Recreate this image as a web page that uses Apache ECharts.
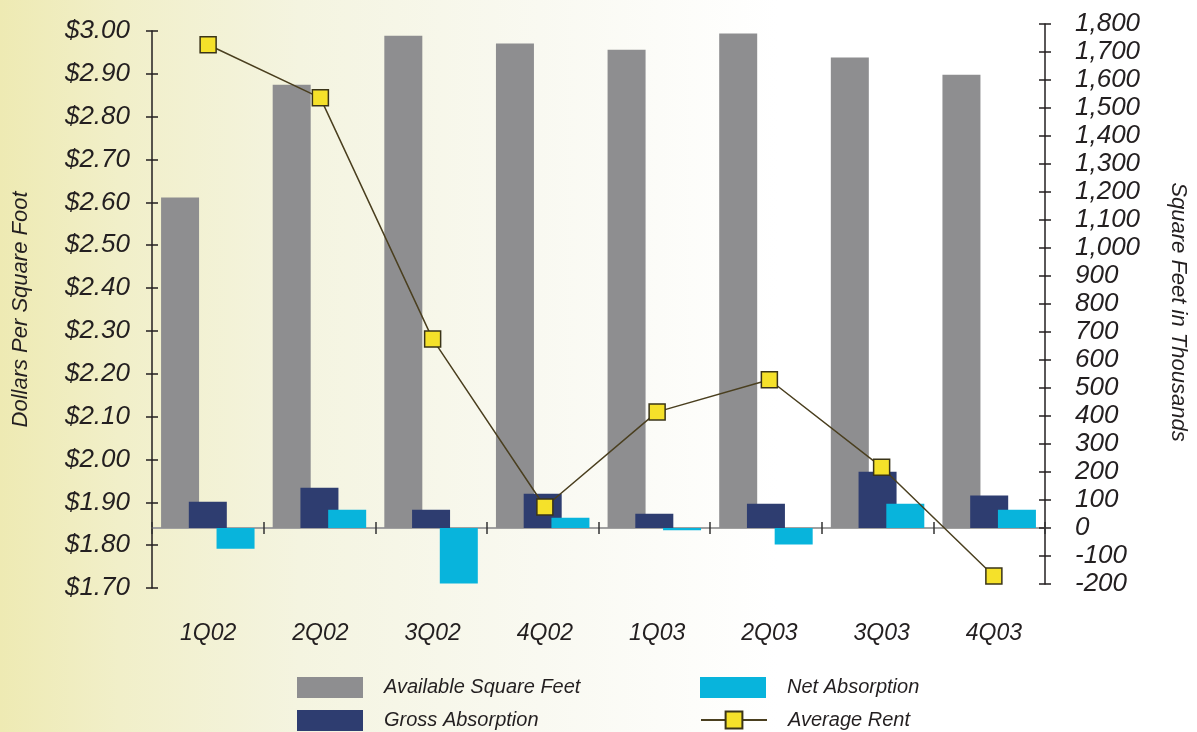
<!DOCTYPE html>
<html>
<head>
<meta charset="utf-8">
<script src="https://cdn.jsdelivr.net/npm/echarts@6/dist/echarts.min.js"></script>
<style>
html,body{margin:0;padding:0;background:#fff;}
#chart{width:1197px;height:732px;}
</style>
</head>
<body>
<div id="chart"></div>
<script>
const categories = ['1Q02','2Q02','3Q02','4Q02','1Q03','2Q03','3Q03','4Q03'];
const availableSqFt = [1180, 1583, 1758, 1730, 1708, 1766, 1680, 1619];
const grossAbsorption = [94, 144, 65, 122, 51, 87, 201, 116];
const netAbsorption = [-74, 65, -198, 37, -8, -59, 87, 65];
const averageRent = [2.968, 2.844, 2.281, 1.889, 2.111, 2.186, 1.982, 1.728];
const leftTicks = {min: 1.7, max: 3.0, interval: 0.1};
const rightTicks = {min: -200, max: 1800, interval: 100};

const FONT = '"Liberation Sans", Arial, Helvetica, sans-serif';
const INK = '#231f20';

const chart = echarts.init(document.getElementById('chart'));

function legendItem(name, left, top, icon) {
  return {
    orient: 'vertical', left: left, top: top, padding: 0,
    itemWidth: 66, itemHeight: 21,
    data: [icon ? {name: name, icon: icon} : name],
    textStyle: {fontFamily: FONT, fontStyle: 'italic', fontSize: 20, color: INK, padding: [0,0,0,16]}
  };
}

chart.setOption({
  backgroundColor: {
    type: 'linear', x: 0, y: 0, x2: 1, y2: 0,
    colorStops: [
      {offset: 0, color: '#eeeab3'},
      {offset: 0.1, color: '#f1efc9'},
      {offset: 0.25, color: '#f4f4e0'},
      {offset: 0.45, color: '#f9f9f1'},
      {offset: 0.65, color: '#ffffff'},
      {offset: 1, color: '#ffffff'}
    ]
  },
  animation: false,
  textStyle: {fontFamily: FONT},
  legend: [
    legendItem('Available Square Feet', 297, 677, 'rect'),
    legendItem('Gross Absorption', 297, 710, 'rect'),
    legendItem('Net Absorption', 700, 677, 'rect'),
    legendItem('Average Rent', 700, 710, null)
  ],
  grid: [
    {left: 152, right: 147, top: 31, bottom: 144},
    {left: 152, right: 147, top: 24, bottom: 148}
  ],
  xAxis: [
    {
      type: 'category', gridIndex: 0, data: categories,
      axisLine: {show: false}, axisTick: {show: false},
      axisLabel: {fontFamily: FONT, fontStyle: 'italic', fontSize: 23, color: INK, margin: 34}
    },
    {
      type: 'category', gridIndex: 1, data: categories,
      axisLine: {show: true, onZero: true, lineStyle: {color: '#a0a0a0', width: 2}},
      axisTick: {show: true, inside: false, length: 6, lineStyle: {color: '#333', width: 1.5}},
      axisLabel: {show: false}
    },
    {
      type: 'category', gridIndex: 1, data: categories, position: 'bottom',
      axisLine: {show: false, onZero: true},
      axisTick: {show: true, inside: true, length: 6, lineStyle: {color: '#333', width: 1.5}},
      axisLabel: {show: false}
    }
  ],
  yAxis: [
    {
      type: 'value', gridIndex: 0, position: 'left',
      min: leftTicks.min, max: leftTicks.max, interval: leftTicks.interval,
      name: 'Dollars Per Square Foot', nameLocation: 'middle', nameGap: 120,
      nameTextStyle: {fontFamily: FONT, fontStyle: 'italic', fontSize: 22, color: INK},
      axisLine: {show: true, lineStyle: {color: INK, width: 1.5}},
      axisTick: {show: true, inside: false, length: 6, lineStyle: {color: INK, width: 1.5}},
      splitLine: {show: false},
      axisLabel: {fontFamily: FONT, fontStyle: 'italic', fontSize: 26, color: INK, margin: 22,
        formatter: v => '$' + v.toFixed(2)}
    },
    {
      type: 'value', gridIndex: 1, position: 'right',
      min: rightTicks.min, max: rightTicks.max, interval: rightTicks.interval,
      name: 'Square Feet in Thousands', nameLocation: 'middle', nameGap: 122, nameRotate: -90,
      nameTextStyle: {fontFamily: FONT, fontStyle: 'italic', fontSize: 22, color: INK, padding: [0, 0, 0, 16]},
      axisLine: {show: true, onZero: false, lineStyle: {color: INK, width: 1.5}},
      axisTick: {show: true, inside: false, length: 6, lineStyle: {color: INK, width: 1.5}},
      splitLine: {show: false},
      axisLabel: {fontFamily: FONT, fontStyle: 'italic', fontSize: 26, color: INK, margin: 30,
        formatter: v => v.toLocaleString('en-US')}
    },
    {
      type: 'value', gridIndex: 0, position: 'left',
      min: leftTicks.min, max: leftTicks.max, interval: leftTicks.interval,
      axisLine: {show: false}, splitLine: {show: false}, axisLabel: {show: false},
      axisTick: {show: true, inside: true, length: 6, lineStyle: {color: INK, width: 1.5}}
    },
    {
      type: 'value', gridIndex: 1, position: 'right',
      min: rightTicks.min, max: rightTicks.max, interval: rightTicks.interval,
      axisLine: {show: false, onZero: false}, splitLine: {show: false}, axisLabel: {show: false},
      axisTick: {show: true, inside: true, length: 6, lineStyle: {color: INK, width: 1.5}}
    }
  ],
  series: [
    {name: 'Available Square Feet', type: 'bar', xAxisIndex: 1, yAxisIndex: 1,
      data: availableSqFt, barWidth: 38, barGap: '-27%', itemStyle: {color: '#8e8e90'}},
    {name: 'Gross Absorption', type: 'bar', xAxisIndex: 1, yAxisIndex: 1,
      data: grossAbsorption, barWidth: 38, barGap: '-27%', itemStyle: {color: '#2e3d70'}},
    {name: 'Net Absorption', type: 'bar', xAxisIndex: 1, yAxisIndex: 1,
      data: netAbsorption, barWidth: 38, barGap: '-27%', itemStyle: {color: '#08b4dc'}},
    {name: 'Average Rent', type: 'line', xAxisIndex: 0, yAxisIndex: 0, z: 5,
      data: averageRent, symbol: 'rect', symbolSize: 16,
      itemStyle: {color: '#f5e12a', borderColor: '#3a3418', borderWidth: 1.5},
      lineStyle: {color: '#4a3f1f', width: 1.5}}
  ]
});
</script>
</body>
</html>
